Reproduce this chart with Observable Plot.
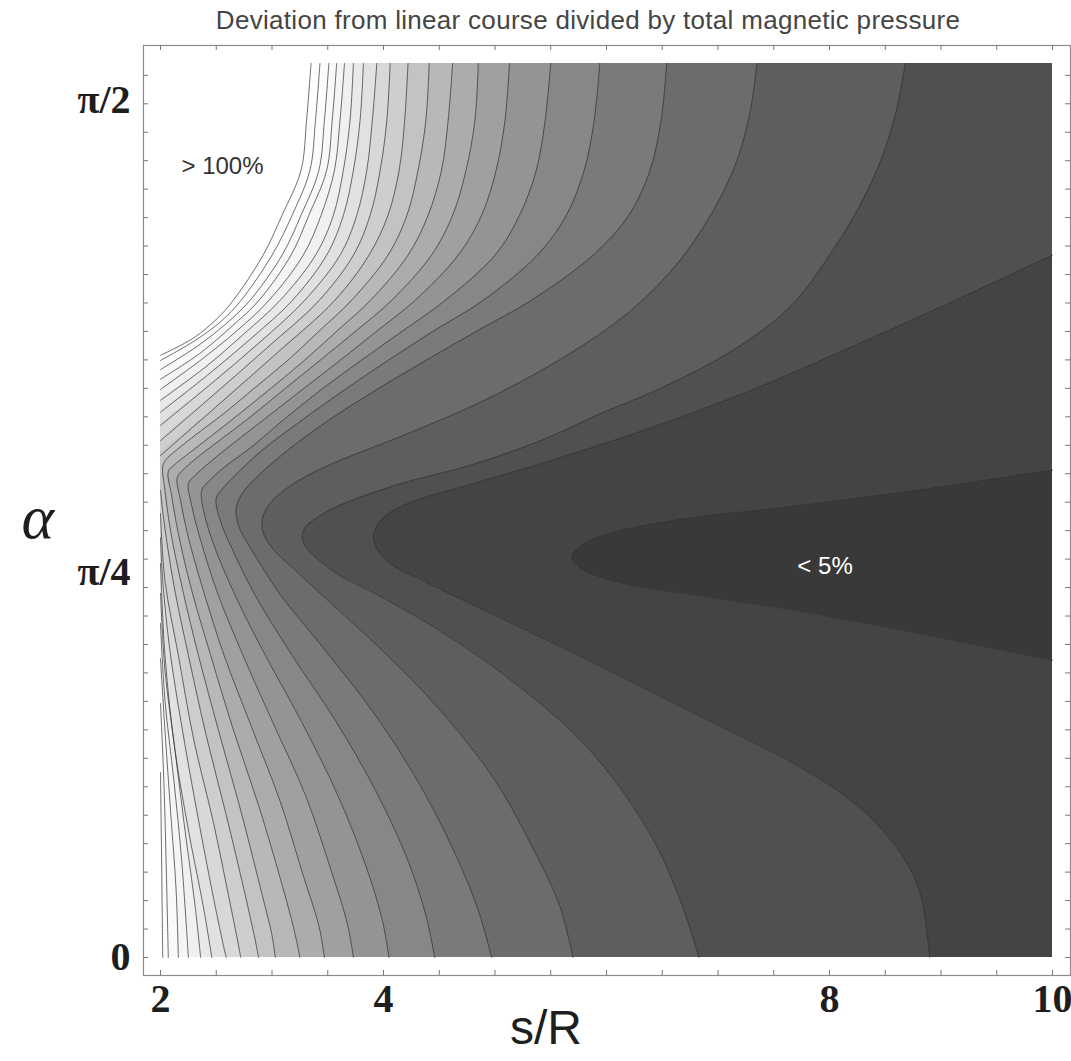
<!DOCTYPE html>
<html>
<head>
<meta charset="utf-8">
<script src="https://cdn.jsdelivr.net/npm/d3@7"></script>
<script src="https://cdn.jsdelivr.net/npm/@observablehq/plot@0.6"></script>
<style>
  body { margin: 0; background: #fff; }
  #title {
    width: 1071px; height: 36px; box-sizing: border-box; padding-left: 105px;
    text-align: center; font-family: "Liberation Sans", Arial, sans-serif;
    font-size: 26px; line-height: 40px; color: #454545; letter-spacing: 0.3px;
    white-space: nowrap;
  }
  #chart svg { display: block; }
</style>
</head>
<body>
<div id="title">Deviation from linear course divided by total magnetic pressure</div>
<div id="chart"></div>
<script>
// Contour levels (deviation as % of total magnetic pressure)
const levelPct = [5, 10, 15, 20, 25, 30, 35, 40, 45, 50, 55, 60, 65, 70, 75, 80, 85, 90, 95, 100, 105];

// Each contour: [s/R, alpha] points, from alpha = pi/2 down to 0.
// Where a contour leaves the plotted window it runs along the window edge (s = 2 or s = 10).
const c05 = [[10,0.856],[8.65,0.817],[7.66,0.792],[6.68,0.770],[6.22,0.754],[5.95,0.740],[5.78,0.724],[5.69,0.703],[5.78,0.682],[5.95,0.668],[6.22,0.654],[6.68,0.640],[7.66,0.611],[8.65,0.575],[10,0.522]];
const c10 = [[10,1.234],[9.09,1.151],[8.19,1.072],[7.29,0.996],[6.39,0.930],[5.50,0.873],[4.69,0.826],[4.29,0.803],[4.06,0.782],[3.95,0.761],[3.91,0.738],[3.95,0.715],[4.06,0.692],[4.29,0.668],[4.57,0.641],[5.00,0.601],[5.88,0.518],[6.75,0.432],[7.63,0.346],[8.19,0.276],[8.50,0.218],[8.73,0.153],[8.83,0.100],[8.90,0]];
const c15 = [[8.68,1.571],[8.60,1.488],[8.46,1.400],[8.25,1.313],[7.97,1.225],[7.70,1.154],[7.40,1.102],[6.98,1.049],[6.44,0.996],[5.95,0.956],[5.41,0.908],[4.78,0.865],[4.20,0.835],[3.84,0.812],[3.57,0.791],[3.39,0.771],[3.30,0.756],[3.27,0.738],[3.31,0.719],[3.42,0.698],[3.61,0.671],[3.91,0.641],[4.57,0.566],[5.23,0.474],[5.77,0.381],[6.17,0.285],[6.47,0.188],[6.68,0.091],[6.83,0]];
const c20 = [[7.35,1.571],[7.29,1.488],[7.17,1.400],[6.96,1.313],[6.66,1.225],[6.32,1.154],[5.99,1.102],[5.57,1.049],[5.08,0.996],[4.65,0.956],[4.06,0.908],[3.57,0.870],[3.24,0.838],[3.03,0.808],[2.94,0.785],[2.91,0.764],[2.93,0.742],[3.02,0.715],[3.21,0.680],[3.48,0.631],[3.99,0.539],[4.51,0.434],[5.00,0.311],[5.35,0.188],[5.58,0.091],[5.70,0]];
const c25 = [[6.54,1.571],[6.49,1.471],[6.39,1.383],[6.20,1.304],[5.88,1.234],[5.32,1.154],[4.85,1.102],[4.38,1.049],[3.90,0.993],[3.48,0.940],[3.14,0.891],[2.88,0.847],[2.74,0.817],[2.68,0.791],[2.70,0.759],[2.83,0.712],[3.08,0.636],[3.48,0.539],[3.93,0.425],[4.33,0.302],[4.65,0.179],[4.85,0.083],[4.97,0]];
const c30 = [[5.94,1.571],[5.89,1.471],[5.80,1.383],[5.64,1.304],[5.38,1.234],[4.89,1.154],[4.46,1.102],[4.04,1.049],[3.62,0.993],[3.24,0.940],[2.91,0.891],[2.68,0.849],[2.55,0.822],[2.50,0.807],[2.53,0.771],[2.65,0.715],[2.85,0.636],[3.18,0.531],[3.57,0.416],[3.93,0.293],[4.22,0.170],[4.38,0.074],[4.46,0]];
const c35 = [[5.50,1.571],[5.45,1.471],[5.37,1.383],[5.22,1.304],[5.00,1.234],[4.55,1.154],[4.18,1.102],[3.80,1.049],[3.43,0.996],[3.10,0.944],[2.81,0.896],[2.57,0.861],[2.43,0.836],[2.37,0.821],[2.39,0.782],[2.48,0.724],[2.67,0.636],[2.94,0.531],[3.26,0.416],[3.59,0.285],[3.84,0.162],[3.99,0.065],[4.05,0]];
const c40 = [[5.13,1.571],[5.09,1.471],[5.01,1.383],[4.88,1.304],[4.67,1.234],[4.28,1.154],[3.95,1.102],[3.61,1.049],[3.26,0.996],[2.94,0.947],[2.65,0.903],[2.43,0.868],[2.30,0.845],[2.25,0.833],[2.28,0.794],[2.36,0.733],[2.52,0.636],[2.74,0.531],[3.00,0.416],[3.30,0.285],[3.53,0.153],[3.68,0.056],[3.73,0]];
const c45 = [[4.85,1.571],[4.82,1.471],[4.74,1.383],[4.62,1.304],[4.43,1.234],[4.07,1.154],[3.76,1.102],[3.43,1.049],[3.12,1.000],[2.82,0.952],[2.54,0.910],[2.32,0.877],[2.20,0.856],[2.15,0.843],[2.18,0.803],[2.25,0.738],[2.39,0.641],[2.57,0.531],[2.81,0.408],[3.07,0.276],[3.28,0.144],[3.42,0.056],[3.47,0]];
const c50 = [[4.62,1.571],[4.58,1.471],[4.52,1.383],[4.40,1.304],[4.22,1.234],[3.88,1.154],[3.59,1.102],[3.29,1.049],[2.99,1.000],[2.70,0.954],[2.44,0.914],[2.23,0.882],[2.12,0.865],[2.07,0.854],[2.10,0.812],[2.16,0.745],[2.28,0.645],[2.45,0.531],[2.65,0.402],[2.88,0.267],[3.08,0.135],[3.20,0.047],[3.25,0]];
const c55 = [[4.41,1.571],[4.38,1.471],[4.31,1.383],[4.21,1.304],[4.04,1.234],[3.71,1.154],[3.43,1.102],[3.14,1.049],[2.84,1.000],[2.57,0.956],[2.32,0.919],[2.14,0.891],[2.05,0.875],[2.02,0.863],[2.04,0.821],[2.09,0.750],[2.20,0.645],[2.34,0.531],[2.52,0.399],[2.72,0.258],[2.89,0.127],[3.00,0.039],[3.03,0]];
const c60 = [[4.22,1.571],[4.19,1.471],[4.14,1.383],[4.04,1.304],[3.87,1.234],[3.56,1.154],[3.05,1.063],[2.53,0.973],[2,0.882],[2,0.877],[2,0.826],[2,0.821],[2.03,0.768],[2.12,0.654],[2.25,0.531],[2.41,0.390],[2.59,0.250],[2.75,0.118],[2.85,0.030],[2.88,0]];
const c65 = [[4.06,1.571],[4.03,1.471],[3.97,1.383],[3.88,1.304],[3.73,1.234],[3.42,1.154],[2.96,1.072],[2.49,0.991],[2,0.908],[2,0.903],[2,0.785],[2,0.780],[2.04,0.662],[2.16,0.531],[2.30,0.381],[2.47,0.241],[2.61,0.109],[2.70,0.021],[2.72,0]];
const c70 = [[3.94,1.571],[3.90,1.471],[3.85,1.383],[3.76,1.304],[3.61,1.234],[3.29,1.154],[2.89,1.081],[2.46,1.009],[2,0.935],[2,0.930],[2,0.743],[2,0.738],[2.02,0.662],[2.09,0.531],[2.22,0.373],[2.35,0.232],[2.48,0.100],[2.57,0.016],[2.59,0]];
const c75 = [[3.82,1.571],[3.79,1.471],[3.73,1.383],[3.64,1.304],[3.49,1.234],[3.18,1.154],[2.82,1.089],[2.42,1.023],[2,0.958],[2,0.953],[2,0.697],[2,0.692],[2.04,0.531],[2.13,0.364],[2.26,0.214],[2.39,0.083],[2.46,0]];
const c80 = [[3.73,1.571],[3.70,1.471],[3.64,1.383],[3.55,1.304],[3.39,1.234],[3.07,1.154],[2.75,1.096],[2.40,1.037],[2,0.979],[2,0.974],[2,0.645],[2,0.640],[2.04,0.504],[2.13,0.364],[2.22,0.223],[2.31,0.091],[2.36,0]];
const c85 = [[3.65,1.571],[3.61,1.471],[3.56,1.383],[3.44,1.304],[3.28,1.234],[2.97,1.154],[2.69,1.102],[2.37,1.051],[2,0.998],[2,0.993],[2,0.592],[2,0.587],[2.04,0.452],[2.12,0.311],[2.19,0.170],[2.25,0]];
const c90 = [[3.58,1.571],[3.54,1.471],[3.49,1.383],[3.33,1.304],[3.17,1.234],[2.88,1.154],[2.64,1.109],[2.35,1.061],[2,1.016],[2,1.011],[2,0.530],[2,0.525],[2.04,0.399],[2.09,0.258],[2.14,0.118],[2.16,0]];
const c95 = [[3.51,1.571],[3.47,1.471],[3.42,1.383],[3.26,1.304],[3.09,1.234],[2.80,1.154],[2.59,1.114],[2.33,1.074],[2,1.033],[2,1.028],[2,0.451],[2,0.446],[2.03,0.311],[2.05,0.170],[2.07,0]];
const c100 = [[3.43,1.571],[3.39,1.471],[3.34,1.383],[3.18,1.304],[3.00,1.234],[2.72,1.154],[2.55,1.119],[2.31,1.084],[2,1.049],[2,1.044],[2,0.330],[2,0.325],[2.01,0.170],[2.02,0]];
const c105 = [[3.35,1.571],[3.31,1.471],[3.26,1.383],[3.09,1.304],[2.92,1.234],[2.65,1.154],[2.51,1.123],[2.30,1.089],[2,1.058],[2,1.053],[2,0.005],[2,0]];

const contours = [c05, c10, c15, c20, c25, c30, c35, c40, c45, c50, c55, c60, c65, c70, c75, c80, c85, c90, c95, c100, c105];

// Grey level (0-255) of the band just below each contour level
const bandGrey = [57, 68, 80, 94, 108, 122, 135, 148, 160, 172, 184, 195, 206, 216, 225, 233, 240, 245, 249, 252, 254];

// Axis ticks and labels
const xMinorTicks = [2, 2.5, 3, 3.5, 4, 4.5, 5, 5.5, 6, 6.5, 7, 7.5, 8, 8.5, 9, 9.5, 10];
const yMinorTicks = [0, 0.05, 0.1, 0.15, 0.2, 0.25, 0.3, 0.35, 0.4, 0.45, 0.5, 0.55, 0.6, 0.65, 0.7, 0.75, 0.8, 0.85, 0.9, 0.95, 1.0, 1.05, 1.1, 1.15, 1.2, 1.25, 1.3, 1.35, 1.4, 1.45, 1.5, 1.55];
const xTickLabels = [2, 4, 8, 10];
const yTickLabels = ["0", "π/4", "π/2"];
const yTickLabelPos = [0, 0.677, 1.506];
const annotations = [
  {s: 2.556, a: 1.390, text: "> 100%", colour: "#333"},
  {s: 7.96, a: 0.687, text: "< 5%", colour: "#fff"}
];

const W = 1071, H = 1025;
const mTop = 9, mBottom = 86, mLeft = 143, mRight = 1;
const frameH = H - mTop - mBottom, frameW = W - mLeft - mRight;

const grey = g => d3.rgb(g, g, g).formatHex();
const CURVE = "catmull-rom";

const fills = contours.map((pts, i) =>
  Plot.areaX(pts, {y: d => d[1], x1: d => d[0], x2: 10, fill: grey(bandGrey[i]), curve: CURVE})
).reverse();

// contour lines: drop the stretches that run along the window edge
function splitAtEdges(pts) {
  const segs = [];
  let cur = [pts[0]];
  for (let i = 1; i < pts.length; i++) {
    const a = pts[i - 1], b = pts[i];
    const edge = (a[0] === 2 && b[0] === 2) || (a[0] === 10 && b[0] === 10);
    if (edge) { if (cur.length > 1) segs.push(cur); cur = [b]; }
    else cur.push(b);
  }
  if (cur.length > 1) segs.push(cur);
  return segs;
}
const lineData = [];
contours.forEach((pts, k) => {
  splitAtEdges(pts).forEach((seg, j) => seg.forEach(p => lineData.push({s: p[0], a: p[1], id: k + "-" + j})));
});

const yLabelMap = new Map(yTickLabelPos.map((p, i) => [p, yTickLabels[i]]));

const chart = Plot.plot({
  width: W, height: H,
  marginTop: mTop, marginBottom: mBottom, marginLeft: mLeft, marginRight: mRight,
  x: {domain: [2, 10], insetLeft: 17, insetRight: 18},
  y: {domain: [0, Math.PI / 2], insetTop: 18, insetBottom: 18},
  style: {background: "#fff"},
  marks: [
    ...fills,
    Plot.line(lineData, {x: "s", y: "a", z: "id", curve: CURVE, stroke: "#333", strokeWidth: 1, strokeOpacity: 0.7}),
    Plot.text(annotations, {x: "s", y: "a", text: "text", fill: "colour", fontSize: 24, fontFamily: "Liberation Sans, Arial, sans-serif"}),
    Plot.frame({stroke: "#8a8a8a", strokeWidth: 1.2}),
    Plot.tickX(xMinorTicks, {x: d => d, insetTop: frameH - 5, stroke: "#777"}),
    Plot.tickX(xMinorTicks, {x: d => d, insetBottom: frameH - 5, stroke: "#777"}),
    Plot.tickY(yMinorTicks, {y: d => d, insetRight: frameW - 5, stroke: "#777"}),
    Plot.tickY(yMinorTicks, {y: d => d, insetLeft: frameW - 5, stroke: "#777"}),
    Plot.axisX(xTickLabels, {anchor: "bottom", tickSize: 0, tickPadding: 8, label: null,
      fontSize: 40, fontWeight: "bold", fontFamily: "Liberation Serif, Times New Roman, serif", fill: "#1e1e1e"}),
    Plot.axisY(yTickLabelPos, {anchor: "left", tickSize: 0, tickPadding: 13, label: null,
      tickFormat: d => yLabelMap.get(d),
      fontSize: 40, fontWeight: "bold", fontFamily: "Liberation Serif, Times New Roman, serif", fill: "#1e1e1e"}),
    Plot.text(["α"], {frameAnchor: "left", dx: -122, dy: 8, fontSize: 62, fontStyle: "italic",
      fontFamily: "Liberation Serif, Times New Roman, serif", fill: "#1e1e1e"}),
    Plot.text(["s/R"], {frameAnchor: "bottom", dx: -61, dy: 68, fontSize: 48,
      fontFamily: "Liberation Sans, Arial, sans-serif", fill: "#1e1e1e"})
  ]
});
document.getElementById("chart").appendChild(chart);
</script>
</body>
</html>
